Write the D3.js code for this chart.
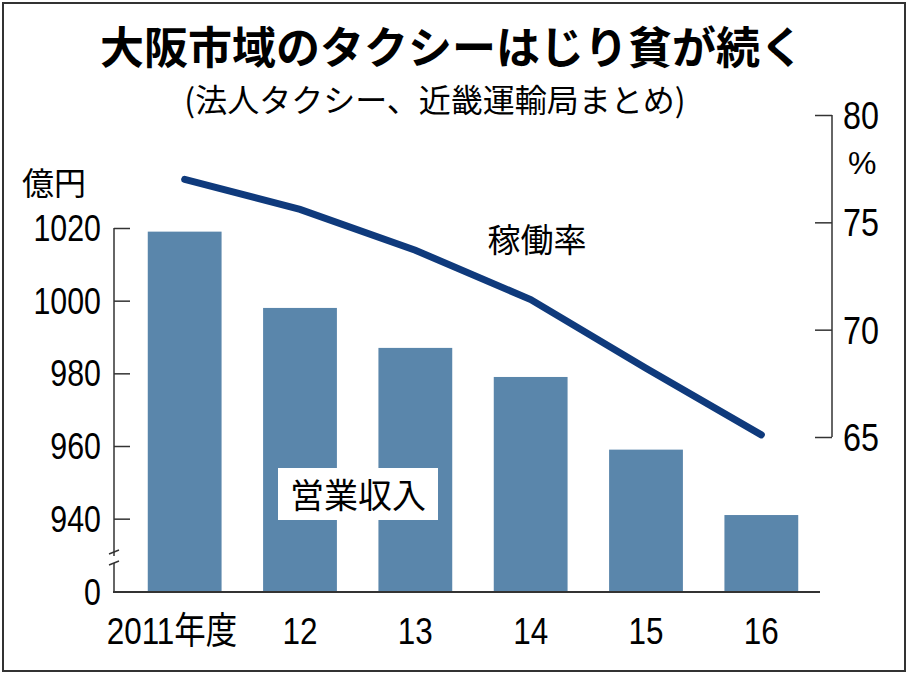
<!DOCTYPE html>
<html><head><meta charset="utf-8">
<script src="https://cdn.jsdelivr.net/npm/d3@7"></script>
<style>body{margin:0;background:#fff}text{font-family:"Liberation Sans","Noto Sans CJK JP",sans-serif}</style>
</head><body><svg id="c" width="910" height="677"></svg>
<script>
const years = ["2011年度","12","13","14","15","16"];
const revenue = [1019, 998, 987, 979, 959, 941];
const utilization = [77.0, 75.6, 73.7, 71.4, 68.2, 65.1];
const leftTicks = [940, 960, 980, 1000, 1020];
const rightTicks = [65, 70, 75, 80];

const svg = d3.select("#c");
const jp = '"Noto Sans CJK JP",sans-serif';
svg.append("rect").attr("x",3).attr("y",3).attr("width",902).attr("height",668).attr("fill","#fff").attr("stroke","#333").attr("stroke-width",2);

svg.append("text").attr("x",452).attr("y",64).attr("text-anchor","middle").style("font-family",jp).attr("font-weight","bold").attr("font-size",44).text("大阪市域のタクシーはじり貧が続く");
svg.append("text").attr("x",435).attr("y",112).attr("text-anchor","middle").style("font-family",jp).attr("font-size",32).text("(法人タクシー、近畿運輸局まとめ)");
svg.append("text").attr("x",22).attr("y",195).style("font-family",jp).attr("font-size",32).text("億円");

const x = d3.scaleBand().domain(years).range([127,819]).paddingInner(0.36).paddingOuter(0.18);
const yL = d3.scaleLinear().domain([0,930,1020]).range([592,555,228]);
const yR = d3.scaleLinear().domain([65,80]).range([437,115]);

svg.selectAll(".bar").data(revenue).join("rect")
  .attr("x",(d,i)=>x(years[i])).attr("width",x.bandwidth())
  .attr("y",d=>yL(d)).attr("height",d=>yL(0)-yL(d)).attr("fill","#5a86ab");

const gL = svg.append("g").attr("transform","translate(114,0)");
gL.call(d3.axisRight(yL).tickValues(leftTicks.concat([0])).tickSize(16).tickFormat(""));
gL.select(".domain").remove();
gL.selectAll("line").attr("stroke","#333").attr("stroke-width",1.5);
gL.selectAll(".tick").filter(d=>d===0).select("line").remove();
gL.append("line").attr("y1",228).attr("y2",556).attr("stroke","#333").attr("stroke-width",1.5);
gL.append("line").attr("y1",563).attr("y2",592).attr("stroke","#333").attr("stroke-width",1.5);
gL.append("line").attr("x1",-5).attr("x2",5).attr("y1",554).attr("y2",550).attr("stroke","#333").attr("stroke-width",1.5);
gL.append("line").attr("x1",-5).attr("x2",5).attr("y1",565).attr("y2",561).attr("stroke","#333").attr("stroke-width",1.5);
svg.append("line").attr("x1",113).attr("x2",820).attr("y1",592).attr("y2",592).attr("stroke","#333").attr("stroke-width",2);
svg.selectAll(".ll").data(leftTicks.concat([0])).join("text")
  .attr("x",101/0.82).attr("y",d=>yL(d)+13).attr("text-anchor","end").attr("font-size",37)
  .attr("transform","scale(0.82,1)").text(d=>d);

svg.selectAll(".xl").data(years).join("text")
  .attr("x",(d,i)=>(i===0?172:x(d)+x.bandwidth()/2)/0.85).attr("y",644).attr("text-anchor","middle")
  .attr("transform","scale(0.85,1)").attr("font-size",37).text(d=>d);

const gR = svg.append("g").attr("transform","translate(832,0)");
gR.call(d3.axisLeft(yR).tickValues(rightTicks).tickSize(17).tickFormat(""));
gR.select(".domain").remove();
gR.selectAll("line").attr("stroke","#333").attr("stroke-width",1.5);
gR.append("line").attr("y1",115).attr("y2",437).attr("stroke","#333").attr("stroke-width",1.5);
svg.selectAll(".rl").data(rightTicks).join("text")
  .attr("x",843/0.85).attr("y",d=>yR(d)+14).attr("transform","scale(0.85,1)").attr("font-size",38).text(d=>d);
svg.append("text").attr("x",848).attr("y",174).attr("font-size",32).text("%");

const line = d3.line().x((d,i)=>x(years[i])+x.bandwidth()/2).y(d=>yR(d));
svg.append("path").datum(utilization).attr("d",line).attr("fill","none")
  .attr("stroke","#0f3a7c").attr("stroke-width",7).attr("stroke-linecap","round");

svg.append("text").attr("x",537).attr("y",252).attr("text-anchor","middle").style("font-family",jp).attr("font-size",33).text("稼働率");
svg.append("rect").attr("x",278).attr("y",468).attr("width",160).attr("height",52).attr("fill","#fff");
svg.append("text").attr("x",358).attr("y",508).attr("text-anchor","middle").style("font-family",jp).attr("font-size",34).text("営業収入");
</script></body></html>
